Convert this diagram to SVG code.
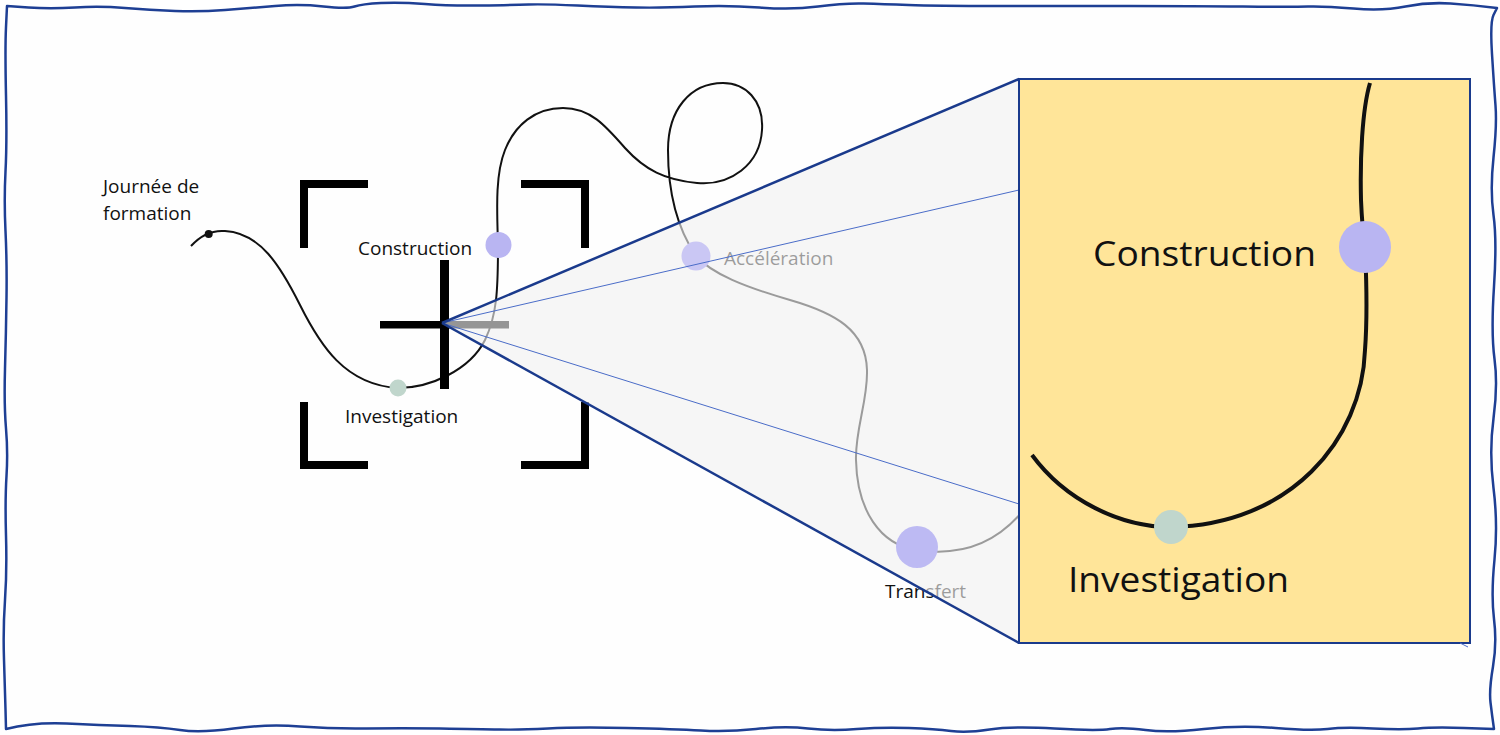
<svg xmlns="http://www.w3.org/2000/svg" width="1500" height="735" viewBox="0 0 1500 735">
  <style>
    .lbl { font-family: "Open Sans", "Liberation Sans", sans-serif; font-size: 19px; fill: #111; }
    .big { font-family: "Open Sans", "Liberation Sans", sans-serif; font-size: 35px; fill: #111; }
    .path { fill: none; stroke: #111; stroke-width: 2; }
    .bracket { fill: none; stroke: #000; stroke-width: 8; stroke-linejoin: miter; }
    .edge { stroke: #1a3a8c; stroke-width: 2.5; fill: none; }
    .thin { stroke: #4a6cc8; stroke-width: 1; fill: none; }
    .constr { fill: #b9b5f2; }
    .invest { fill: #c0d6cc; }
  </style>
  <rect x="0" y="0" width="1500" height="735" fill="#ffffff"/>
  <g id="frame">
    <path d="M7,6 L28.5,7.5 Q50,9 75,7.5 Q100,6 125,8 Q150,10 175,11 Q200,12 225,10 Q250,8 275,6 Q300,4 323.5,6.5 Q347,9 354.5,6.5 Q362,4 381,3 Q400,2 425,4 Q450,6 481,5.5 Q512,5 528.5,4.5 Q545,4 577.5,5.5 Q610,7 636,7.5 Q662,8 694.5,6.5 Q727,5 759.5,7.5 Q792,10 818,6.5 Q844,3 863.5,3.5 Q883,4 908.5,5 Q934,6 999,6 Q1064,6 1129,6 Q1194,6 1243,6.5 Q1292,7 1308,6.5 Q1324,6 1353.5,8.5 Q1383,11 1405.5,6.5 Q1428,2 1450.5,3.5 Q1473,5 1497,8 L1493.5,15 Q1490,22 1492,54 Q1494,86 1495.5,105.5 Q1497,125 1493.5,157.5 Q1490,190 1493.5,215 Q1497,240 1494,286.5 Q1491,333 1494.5,359 Q1498,385 1493.5,418.5 Q1489,452 1493.5,488 Q1498,524 1494.5,559.5 Q1491,595 1494,619 Q1497,643 1493,666.5 Q1489,690 1490.5,702.5 Q1492,715 1494,729 L1464,728 Q1434,727 1418,728.5 Q1402,730 1373,728.5 Q1344,727 1327.5,729 Q1311,731 1275.5,728 Q1240,725 1204,729 Q1168,733 1145.5,730 Q1123,727 1110,729 Q1097,731 1054.5,728.5 Q1012,726 989.5,729.5 Q967,733 951,731 Q935,729 909,728 Q883,727 857,729 Q831,731 808,728.5 Q785,726 756,729 Q727,732 701,730.5 Q675,729 626,728 Q577,727 548,728.5 Q519,730 499.5,729.5 Q480,729 440,728.5 Q400,728 366.5,728.5 Q333,729 300,726.5 Q267,724 233.5,728.5 Q200,733 180,730 Q160,727 130,726 Q100,725 66.5,723.5 Q33,722 6,729 L5.5,709.5 Q5,690 4,659.5 Q3,629 5,600 Q7,571 6,535.5 Q5,500 6.5,476 Q8,452 6,428.5 Q4,405 5,369 Q6,333 6.5,297.5 Q7,262 5.5,231 Q4,200 5.5,171.5 Q7,143 6,95.5 Q5,48 6,27 L7,6 Z" fill="#fefefe" stroke="#1e3f94" stroke-width="2.5" stroke-linejoin="round"/>
  </g>

  <g id="connectors">
    <path class="path" d="M191,246 C200,236 212,230 225,231 C260,233 280,265 300,305 C320,345 345,385 398,388 C430,388 470,370 485,340 C497,315 498,290 498,245 C497,210 495,175 505,150 C515,125 535,108 563,108 C590,108 605,125 625,148 C645,170 665,180 697,183 C730,186 760,165 762,130 C764,100 745,83 723,83 C690,83 668,110 668,150 C668,190 675,225 696,256 C712,274 745,287 790,300 C835,313 866,330 867,370 C868,400 855,430 856,460 C857,510 880,545 917,550 C950,555 990,550 1022,512"/>
  </g>

  <g id="viewfinder">
    <path class="bracket" d="M304,248 V184 H368"/>
    <path class="bracket" d="M521,184 H585 V248"/>
    <path class="bracket" d="M304,402 V465 H368"/>
    <path class="bracket" d="M521,465 H585 V402"/>
    <rect x="440" y="260" width="9" height="129" fill="#000"/>
    <rect x="380" y="321" width="129" height="7.5" fill="#000"/>
  </g>

  <g id="node-journee">
    <circle cx="208.7" cy="234" r="4" fill="#111"/>
    <text class="lbl" x="103" y="193">Journée de</text>
    <text class="lbl" x="103" y="220">formation</text>
  </g>
  <g id="node-investigation">
    <circle class="invest" cx="398" cy="388" r="8.5"/>
    <text class="lbl" x="345" y="423">Investigation</text>
  </g>
  <g id="node-construction">
    <circle class="constr" cx="498.5" cy="245" r="13"/>
    <text class="lbl" x="358" y="255">Construction</text>
  </g>
  <g id="node-acceleration-label">
    <text class="lbl" x="724" y="265">Accélération</text>
  </g>
  <g id="node-transfert-label">
    <text class="lbl" x="885" y="598">Transfert</text>
  </g>

  <g id="zoom-cone">
    <polygon points="442,323 1019,79 1019,643" fill="#f0f0f0" fill-opacity="0.62"/>
  </g>

  <g id="node-acceleration">
    <circle cx="696" cy="256" r="14.5" fill="#cac7f4"/>
  </g>
  <g id="node-transfert">
    <circle cx="917" cy="547" r="21" fill="#bdbaf3"/>
  </g>

  <g id="zoom-lines">
    <line class="thin" x1="442" y1="323" x2="1019" y2="190"/>
    <line class="thin" x1="442" y1="323" x2="1019" y2="504"/>
    <line class="edge" x1="442" y1="323" x2="1019" y2="79"/>
    <line class="edge" x1="442" y1="323" x2="1019" y2="643"/>
  </g>

  <g id="zoom-box">
    <rect x="1019" y="79" width="451" height="564" fill="#ffe599" stroke="#1a3a8c" stroke-width="2"/>
    <line x1="1460" y1="643" x2="1468" y2="647" stroke="#4a6cc8" stroke-width="1"/>
    <path d="M1370,83 C1362,110 1360,160 1361,200 C1362,225 1364,240 1365,247 C1366,270 1368,310 1365,350 C1362,440 1290,525 1171,527 C1120,527 1065,500 1032,455" fill="none" stroke="#111" stroke-width="4"/>
    <g id="zoom-construction">
      <circle class="constr" cx="1365" cy="247" r="26"/>
      <text class="big" x="1093" y="266" textLength="223" lengthAdjust="spacingAndGlyphs">Construction</text>
    </g>
    <g id="zoom-investigation">
      <circle class="invest" cx="1171" cy="527" r="17"/>
      <text class="big" x="1068" y="592" textLength="221" lengthAdjust="spacingAndGlyphs">Investigation</text>
    </g>
  </g>
</svg>
